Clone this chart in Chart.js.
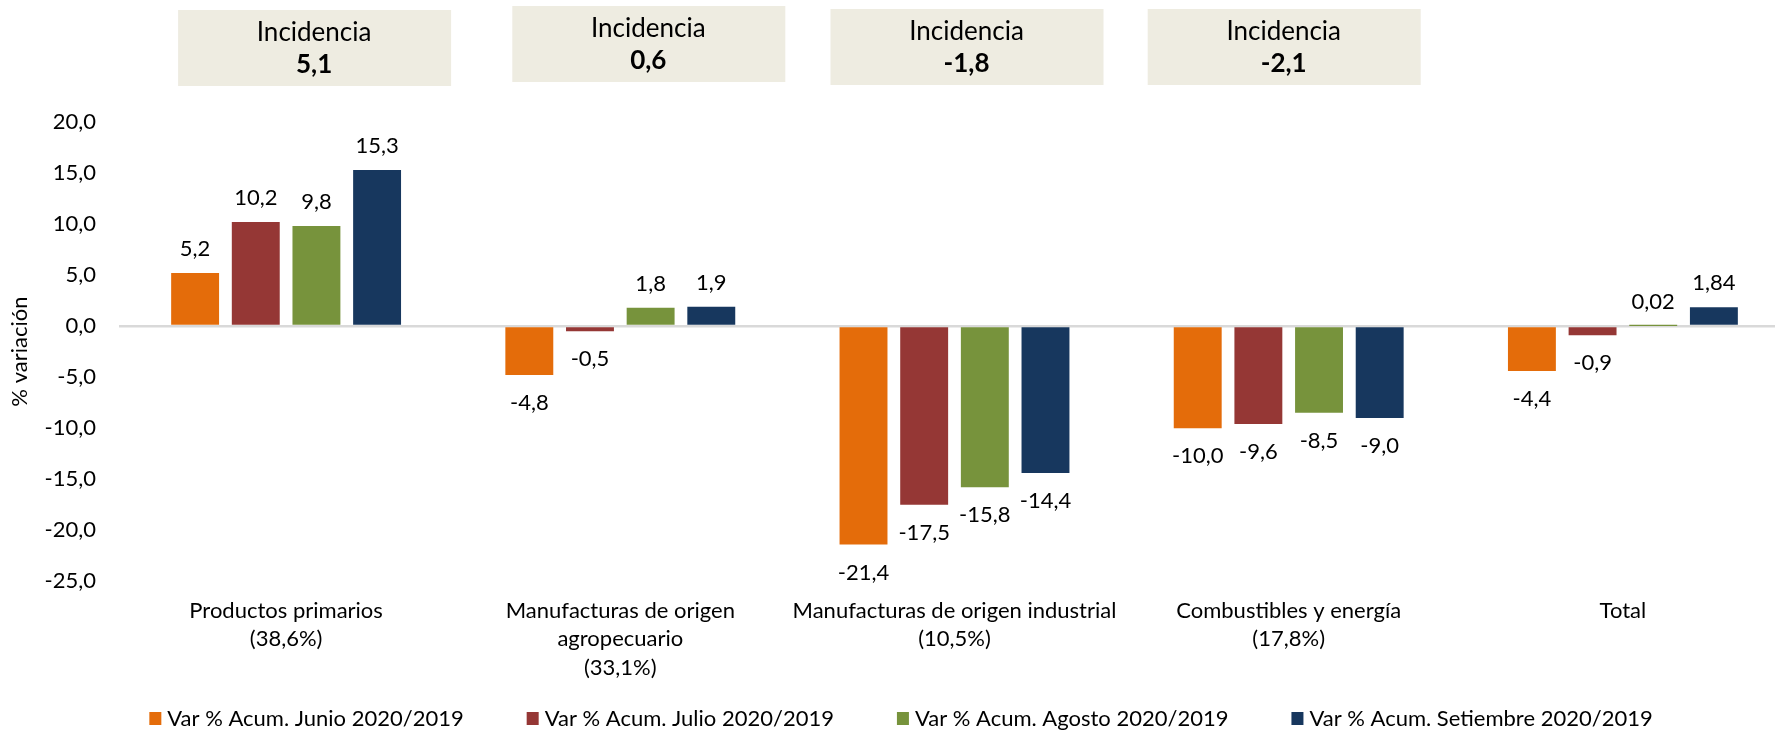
<!DOCTYPE html>
<html lang="es">
<head>
<meta charset="utf-8">
<title>Variación acumulada de exportaciones</title>
<script src="https://cdn.jsdelivr.net/npm/chart.js@4.4.1/dist/chart.umd.min.js"></script>
<style>
  html, body { margin: 0; padding: 0; background: #fff; overflow: hidden; }
  /* plot runs a little past the right edge of the window, as in the original */
  .chart-container { position: relative; width: 1790px; height: 733px; }
</style>
</head>
<body>
<div class="chart-container"><canvas id="chart"></canvas></div>
<script>
const categories = [
  ["Productos primarios", "(38,6%)"],
  ["Manufacturas de origen", "agropecuario", "(33,1%)"],
  ["Manufacturas de origen industrial", "(10,5%)"],
  ["Combustibles y energía", "(17,8%)"],
  "Total",
];
const series_names = [
  "Var % Acum. Junio 2020/2019",
  "Var % Acum. Julio 2020/2019",
  "Var % Acum. Agosto 2020/2019",
  "Var % Acum. Setiembre 2020/2019",
];
const junio = [5.2, -4.8, -21.4, -10.0, -4.4];
const julio = [10.2, -0.5, -17.5, -9.6, -0.9];
const agosto = [9.8, 1.8, -15.8, -8.5, 0.02];
const setiembre = [15.3, 1.9, -14.4, -9.0, 1.84];
const incidencias = [5.1, 0.6, -1.8, -2.1];
const y_min = -25;
const y_max = 20;
const y_step = 5;

const colors = ["#E46C0A", "#953735", "#77933C", "#17375E"];
const font_family = "Lato, 'Open Sans', sans-serif";

// 1 or 2 decimals, comma as separator
function fmt(v) {
  let s = v.toFixed(2);
  if (s.endsWith("0")) s = v.toFixed(1);
  return s.replace(".", ",");
}

const bar_labels = {
  id: "bar_labels",
  afterDatasetsDraw(chart) {
    const ctx = chart.ctx;
    ctx.save();
    ctx.font = "22px " + font_family;
    ctx.fillStyle = "#000";
    ctx.textAlign = "center";
    ctx.textBaseline = "middle";
    chart.data.datasets.forEach((ds, i) => {
      chart.getDatasetMeta(i).data.forEach((bar, j) => {
        const v = ds.data[j];
        const y = v >= 0 ? bar.y - 24 : bar.y + 28;
        ctx.fillText(fmt(v), bar.x, y);
      });
    });
    ctx.restore();
  },
};

// boxes with the incidence over each group
const box_offsets = [28, 28, 12, -5];
const box_tops = [10, 6, 9, 9];
const incidencia_boxes = {
  id: "incidencia_boxes",
  afterDraw(chart) {
    const ctx = chart.ctx;
    const x_scale = chart.scales.x;
    ctx.save();
    ctx.textAlign = "center";
    ctx.textBaseline = "middle";
    incidencias.forEach((v, i) => {
      const cx = x_scale.getPixelForValue(i) + box_offsets[i];
      const top = box_tops[i];
      ctx.fillStyle = "#EEECE1";
      ctx.fillRect(cx - 136, top, 273, 76);
      ctx.fillStyle = "#000";
      ctx.font = "26px " + font_family;
      ctx.fillText("Incidencia", cx, top + 23);
      ctx.font = "bold 26px " + font_family;
      ctx.fillText(fmt(v), cx, top + 55);
    });
    ctx.restore();
  },
};

const bottom_legend = {
  id: "bottom_legend",
  afterDraw(chart) {
    const ctx = chart.ctx;
    const gap = 63;
    const y = 719;
    ctx.save();
    ctx.font = "22px " + font_family;
    ctx.textBaseline = "middle";
    ctx.textAlign = "left";
    const widths = chart.data.datasets.map((ds) => 18 + ctx.measureText(ds.label).width);
    const total = widths.reduce((a, b) => a + b, 0) + gap * (widths.length - 1);
    let x = 901 - total / 2;
    chart.data.datasets.forEach((ds, i) => {
      ctx.fillStyle = ds.backgroundColor;
      ctx.fillRect(x, y - 7, 12, 13);
      ctx.fillStyle = "#000";
      ctx.fillText(ds.label, x + 18, y);
      x += widths[i] + gap;
    });
    ctx.restore();
  },
};

const series = [junio, julio, agosto, setiembre];

new Chart(document.getElementById("chart"), {
  type: "bar",
  data: {
    labels: categories,
    datasets: series.map((data, i) => ({
      label: series_names[i],
      data: data,
      backgroundColor: colors[i],
      categoryPercentage: 0.726,
      barPercentage: 0.79,
    })),
  },
  options: {
    responsive: true,
    maintainAspectRatio: false,
    animation: false,
    layout: {
      padding: { top: 122, right: 0, bottom: 36, left: 0 },
    },
    plugins: {
      legend: { display: false },
      tooltip: { enabled: false },
    },
    scales: {
      x: {
        grid: { display: false, drawTicks: false },
        border: { display: false },
        ticks: {
          color: "#000",
          padding: 15,
          maxRotation: 0,
          autoSkip: false,
          font: { family: font_family, size: 22, lineHeight: 1.3 },
        },
      },
      y: {
        min: y_min,
        max: y_max,
        afterFit: (scale) => {
          scale.width = 119;
        },
        grid: {
          drawTicks: false,
          color: (c) => (c.tick && c.tick.value === 0 ? "#D9D9D9" : "rgba(0,0,0,0)"),
          lineWidth: 2.5,
        },
        border: { display: false },
        title: {
          display: true,
          text: "% variación",
          color: "#000",
          padding: { top: 7, bottom: 0 },
          font: { family: font_family, size: 22 },
        },
        ticks: {
          stepSize: y_step,
          color: "#000",
          padding: 23,
          font: { family: font_family, size: 22 },
          callback: (v) => v.toFixed(1).replace(".", ","),
        },
      },
    },
  },
  plugins: [bar_labels, incidencia_boxes, bottom_legend],
});
</script>
</body>
</html>
